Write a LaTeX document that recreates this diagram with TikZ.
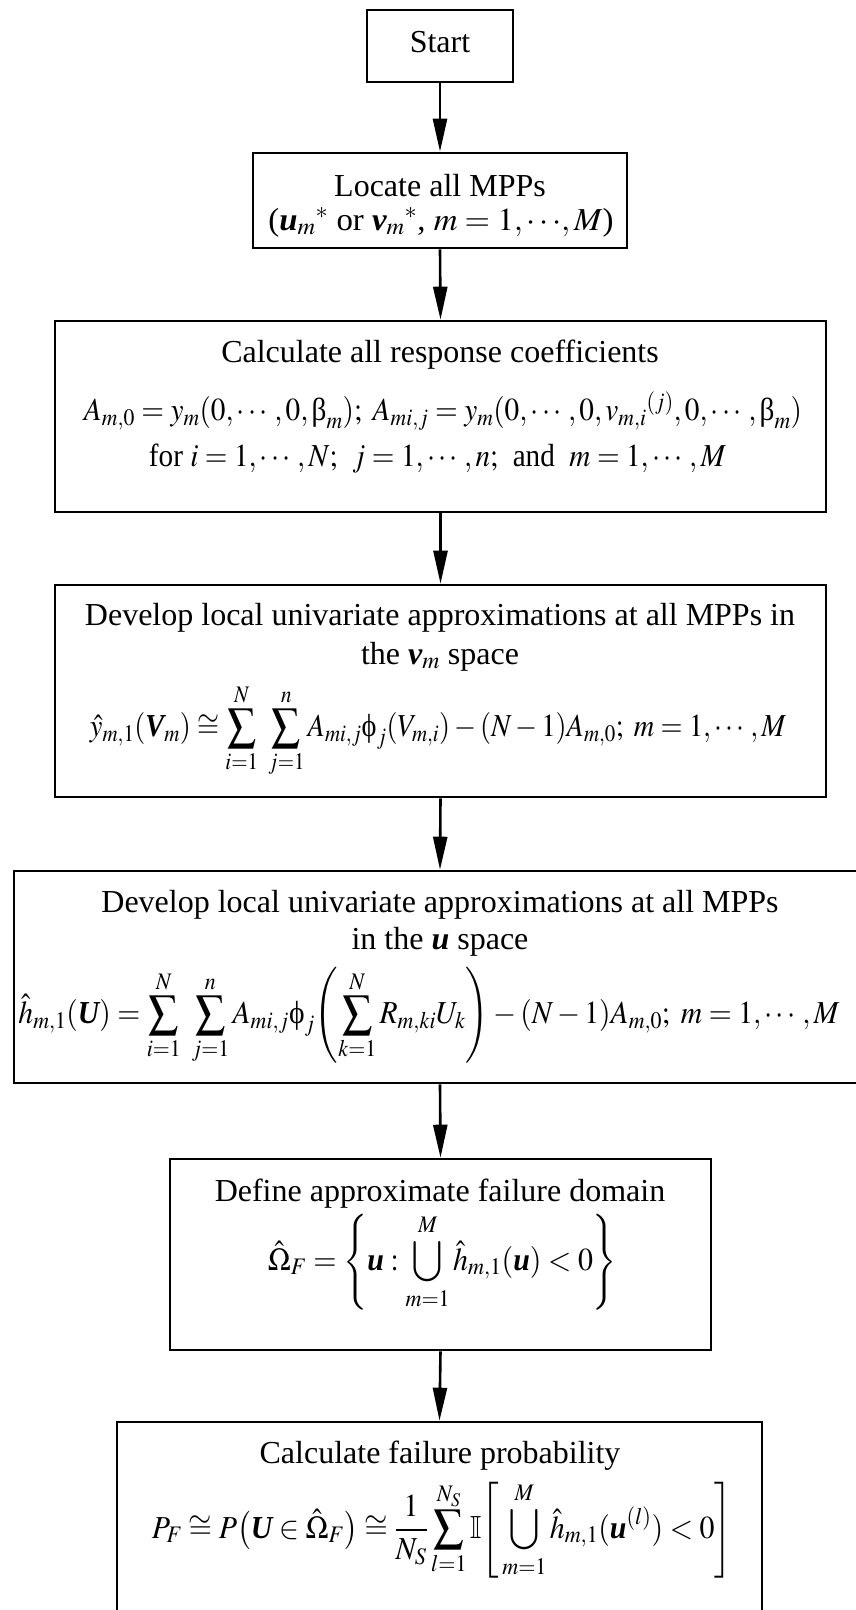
\documentclass[tikz,border=0pt]{standalone}
\usepackage{graphicx}
\usepackage{mathptmx}
\usepackage{amsmath}
\usepackage{amssymb}
\usepackage[no-math]{fontspec}
\setmainfont{Liberation Serif}
\usetikzlibrary{arrows.meta}
\newcommand{\bvec}[1]{\text{\bfseries\itshape #1}}
\newcommand{\ubeta}{\text{\normalfont β}}
\newcommand{\uphi}{\text{\normalfont ϕ}}
\newcommand{\fitw}[2]{\resizebox{#1}{\height}{#2}}
\tikzset{
  x=1pt, y=-1pt,
  box/.style={draw=black, line width=2.6pt, rectangle, inner sep=0pt},
  txt/.style={inner sep=0pt, anchor=base, font=\fontsize{32}{38}\selectfont},
  eq/.style={inner sep=0pt, anchor=center, font=\fontsize{32}{38}\selectfont},
  flow/.style={line width=2.6pt, -{Triangle[length=33pt,width=14pt]}}
}
\begin{document}
\begin{tikzpicture}
\clip (0,0) rectangle (856,1610);
\fill[white] (0,0) rectangle (856,1610);
% boxes
\node[box, minimum width=146pt, minimum height=72pt] (start) at (440,46) {};
\node[box, minimum width=374pt, minimum height=95pt] (locate) at (440,200.5) {};
\node[box, minimum width=771pt, minimum height=191pt] (calc) at (440.5,416.5) {};
\node[box, minimum width=771pt, minimum height=212pt] (dev1) at (440.5,691) {};
\node[box, minimum width=852pt, minimum height=212pt] (dev2) at (440,977) {};
\node[box, minimum width=541pt, minimum height=191pt] (define) at (440.5,1254.5) {};
\node[box, minimum width=645pt, minimum height=238pt] (final) at (439.5,1541) {};
% texts
\node[txt] (t0) at (440,52) {Start};
\node[txt] (t1a) at (440,196) {Locate all MPPs};
\node[txt] (t1b) at (441,230) {\fitw{345pt}{(${\bvec{u}_m}^{*}$ or ${\bvec{v}_m}^{*}$, $m = 1,\cdots\!,M$)}};
\node[txt] (t2a) at (440,362) {Calculate all response coefficients};
\node[eq] (t2b) at (443,411) {\fitw{718pt}{$A_{m,0} = y_m(0,\cdots,0,\ubeta_m);\ A_{mi,j} = y_m(0,\cdots,0,{v_{m,i}}^{(j)},0,\cdots,\ubeta_m)$}};
\node[txt] (t2c) at (437.5,466) {\fitw{577pt}{for $i=1,\cdots,N;$\ \ $j=1,\cdots,n;$\ \ and\ \ $m=1,\cdots,M$}};
\node[txt] (t3a) at (440,625) {Develop local univariate approximations at all MPPs in};
\node[txt] (t3b) at (440,664) {the $\bvec{v}_m$ space};
\node[eq] (t3c) at (438,731) {\fitw{696pt}{$\displaystyle \hat{y}_{m,1}(\bvec{V}_m) \cong \sum_{i=1}^{N}\ \sum_{j=1}^{n} A_{mi,j}\uphi_j(V_{m,i}) - (N-1)A_{m,0};\ m=1,\cdots,M$}};
\node[txt] (t4a) at (440,912) {Develop local univariate approximations at all MPPs};
\node[txt] (t4b) at (440,949) {in the $\bvec{u}$ space};
\node[eq] (t4c) at (429,1016) {\fitw{821pt}{$\displaystyle \hat{h}_{m,1}(\bvec{U}) = \sum_{i=1}^{N}\ \sum_{j=1}^{n} A_{mi,j}\uphi_j\!\left(\sum_{k=1}^{N} R_{m,ki}U_k\right) - (N-1)A_{m,0};\ m=1,\cdots,M$}};
\node[txt] (t5a) at (440,1201) {Define approximate failure domain};
\node[eq] (t5b) at (442.5,1262) {\fitw{349pt}{$\displaystyle \hat{\Omega}_F = \left\{\bvec{u} : \bigcup_{m=1}^{M} \hat{h}_{m,1}(\bvec{u}) < 0\right\}$}};
\node[txt] (t6a) at (440,1463) {Calculate failure probability};
\node[eq] (t6b) at (442,1530) {\fitw{580pt}{$\displaystyle P_F \cong P\!\left(\bvec{U} \in \hat{\Omega}_F\right) \cong \frac{1}{N_S}\sum_{l=1}^{N_S}\mathbb{I}\!\left[\,\bigcup_{m=1}^{M} \hat{h}_{m,1}(\bvec{u}^{(l)}) < 0\right]$}};
% connectors
\draw[flow] (start.south) -- (locate.north);
\draw[flow] (locate.south) -- (calc.north);
\draw[flow] (calc.south) -- (dev1.north);
\draw[flow] (dev1.south) -- (dev2.north);
\draw[flow] (dev2.south) -- (define.north);
\draw[flow] (define.south) -- (final.north);
\end{tikzpicture}
\end{document}
